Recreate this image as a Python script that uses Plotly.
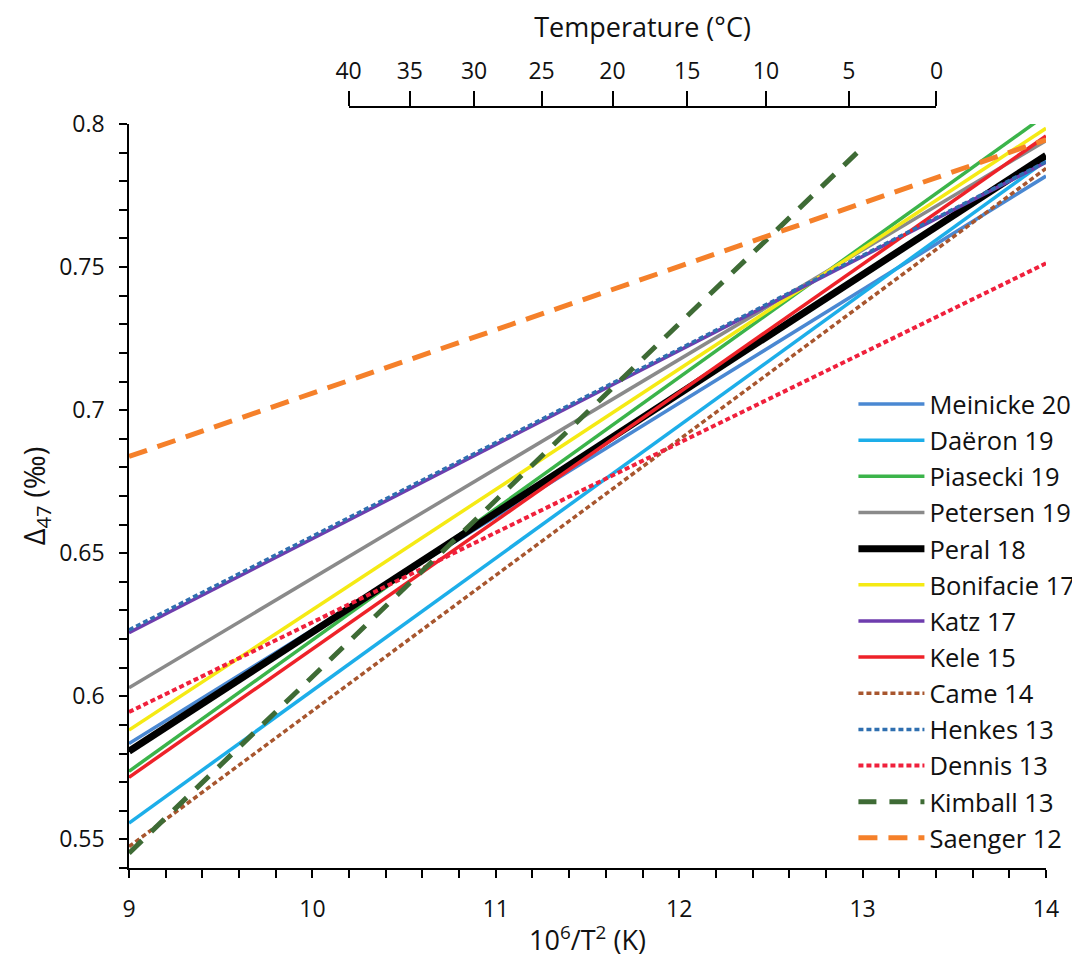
import plotly.graph_objects as go

# ---- data ----
names = ["Meinicke 20", "Daëron 19", "Piasecki 19", "Petersen 19", "Peral 18",
         "Bonifacie 17", "Katz 17", "Kele 15", "Came 14", "Henkes 13",
         "Dennis 13", "Kimball 13", "Saenger 12"]
x_start = [9, 9, 9, 9, 9, 9, 9, 9, 9, 9, 9, 9, 9]
x_end = [14, 14, 14, 14, 14, 14, 14, 14, 14, 14, 14, 12.97, 14]
y_start = [0.5835, 0.5557, 0.5738, 0.6030, 0.5808, 0.5882, 0.6222, 0.5717,
           0.5475, 0.6232, 0.5945, 0.5452, 0.6838]
y_end = [0.7818, 0.7872, 0.8032, 0.7942, 0.7890, 0.7985, 0.7866, 0.7958,
         0.7845, 0.7868, 0.7513, 0.7900, 0.7945]

temps_c = [40, 35, 30, 25, 20, 15, 10, 5, 0]
y_ticks = [0.55, 0.6, 0.65, 0.7, 0.75, 0.8]

# ---- styles ----
colors = ["#4A88D2", "#1DAEE9", "#3BB44A", "#8A8A8A", "#000000",
          "#F5EA14", "#6E3DAE", "#EE2229", "#A8562E", "#2F6FB0",
          "#F0203C", "#3E6B35", "#F5802A"]
widths = [3.5, 3.5, 3.5, 3.5, 7, 3.5, 3.5, 3.5, 3.5, 3.5, 4, 5, 5]
dashes = ["solid"] * 8 + ["5px,3px", "5px,3px", "5px,3px", "18px,13px", "19px,11px"]

fig = go.Figure()
for i, n in enumerate(names):
    fig.add_trace(go.Scatter(
        x=[x_start[i], x_end[i]], y=[y_start[i], y_end[i]],
        mode="lines", name=n,
        line=dict(color=colors[i], width=widths[i], dash=dashes[i]),
    ))

# top temperature axis: 10^6/T^2 positions for the °C ticks
t_pos = [1e6 / (t + 273.15) ** 2 for t in temps_c]
x_lo, x_hi = 9, 14
t_min, t_max = min(t_pos), max(t_pos)
fig.add_trace(go.Scatter(
    x=[t_min, t_max], y=[0.7, 0.7], xaxis="x2", yaxis="y",
    mode="lines", line=dict(width=0), opacity=0,
    showlegend=False, hoverinfo="skip",
))

font_family = "Open Sans, Noto Sans, sans-serif"
axis_common = dict(
    showgrid=False, zeroline=False, showline=True, automargin=False,
    linecolor="black", linewidth=1.5,
    ticks="outside", tickcolor="black", tickwidth=1.5, ticklen=8,
    tickfont=dict(size=23, color="#111"),
)

fig.update_layout(
    width=1080, height=960,
    margin=dict(l=121, r=42, t=99, b=100, autoexpand=False),
    paper_bgcolor="white", plot_bgcolor="rgba(0,0,0,0)",
    font=dict(family=font_family, color="#111"),
    xaxis=dict(
        range=[x_lo, x_hi], tick0=9, dtick=1,
        minor=dict(dtick=0.2, ticks="outside", ticklen=8, tickcolor="black", tickwidth=1.5),
        title=dict(text="10<sup>6</sup>/T<sup>2</sup> (K)", font=dict(size=27), standoff=8),
        ticklabelstandoff=12,
        **axis_common,
    ),
    yaxis=dict(
        range=[0.54, 0.8], domain=[0, 744 / 761],
        tickmode="array", tickvals=y_ticks, ticktext=[f"{v:g}" for v in y_ticks],
        minor=dict(tickmode="linear", tick0=0.54, dtick=0.01, ticks="outside",
                   ticklen=8, tickcolor="black", tickwidth=1.5),
        title=dict(text="Δ<sub>47</sub> (‰)", font=dict(size=29), standoff=5),
        ticklabelstandoff=10,
        **axis_common,
    ),
    xaxis2=dict(
        anchor="free", position=1, side="top",
        domain=[(t_min - x_lo) / (x_hi - x_lo), (t_max - x_lo) / (x_hi - x_lo)],
        range=[t_min, t_max],
        tickmode="array", tickvals=t_pos, ticktext=[str(t) for t in temps_c],
        title=dict(text="Temperature (°C)", font=dict(size=27), standoff=11),
        ticklabelstandoff=3,
        **{**axis_common, "ticklen": 15},
    ),
    legend=dict(
        x=0.790, y=0.640, xanchor="left", yanchor="top",
        font=dict(size=25.5, color="#111"), itemwidth=66,
        bgcolor="rgba(0,0,0,0)", tracegroupgap=0,
    ),
    showlegend=True,
)

fig.write_html("out.html")
